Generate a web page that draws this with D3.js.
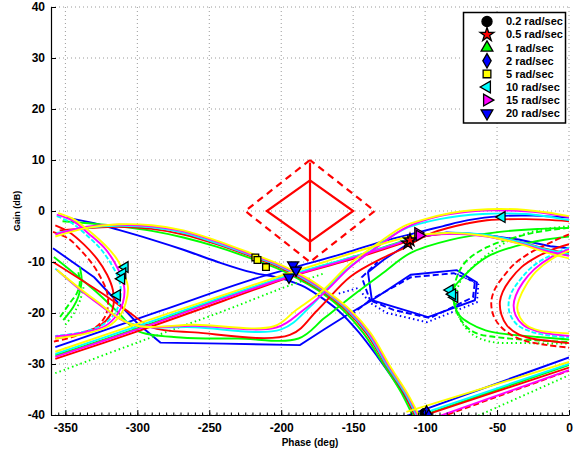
<!DOCTYPE html>
<html>
<head>
<meta charset="utf-8">
<script src="https://cdn.jsdelivr.net/npm/d3@7"></script>
<style>
body { margin: 0; background: #fff; }
text { font-family: "Liberation Sans", Arial, Helvetica, sans-serif; font-weight: bold; fill: #000; }
</style>
</head>
<body>
<svg id="chart" width="588" height="453"></svg>
<script>
// axis ticks
const phaseTicks = [-350, -300, -250, -200, -150, -100, -50, 0]
const gainTicks = [40, 30, 20, 10, 0, -10, -20, -30, -40]
const legendLabels = ['0.2 rad/sec', '0.5 rad/sec', '1 rad/sec', '2 rad/sec', '5 rad/sec', '10 rad/sec', '15 rad/sec', '20 rad/sec']

// [phase deg, gain dB]
// blue
const blueS1 = [[-349,-1.3],[-330,-2.4],[-313,-3.7],[-290,-5.6],[-268,-7.6],[-245,-9.9],[-221,-12],[-200,-13.2],[-186,-14.6],[-174,-16.6],[-160,-19.6],[-146,-23.8],[-133,-28.6],[-122,-33],[-113,-36.8],[-106,-40.5]]
const blueR3 = [[-114,-40.3],[0,-28.7]]
const blueS4 = [[-357,-26.7],[-283,-19.5],[-221,-13.5],[-190,-11],[-160,-8.6],[-130,-6],[-105,-4.2],[-88,-3],[-70,-1.8],[-48,-1],[-25,-0.9],[0,-1.3]]
const blueS3 = [[-358.6,-7.3],[-330,-13],[-300,-22],[-284,-25.8],[-240,-26],[-187,-26.3],[-170,-23.2],[-152,-20],[-137,-17.5],[-110,-12.5],[-78,-11.6],[-64,-14],[-65.4,-17.5],[-98,-20.8],[-137,-17.5],[-139.7,-12],[-129,-9.6],[-115,-7],[-105,-5.2],[-85,-4.2],[-60,-4.6],[-35,-5.6],[-13,-6.9],[0,-7.3]]
const blueHexDash = [[-152,-20.5],[-138.3,-17.5],[-122,-19.4],[-96.6,-21],[-66.7,-16.9],[-65.4,-13.9],[-80,-12.2],[-110,-13],[-138.3,-17.5],[-144,-13],[-133,-10]]
const blueHexDot = [[-160,-16.2],[-146.7,-15.1],[-138.3,-18],[-126.5,-20],[-98.7,-21.8],[-64,-17.9],[-63,-14.4],[-78,-12.3]]

// green
const greenS1 = [[-352,-2],[-330,-2.5],[-313,-3],[-290,-3.9],[-268,-5.2],[-245,-7],[-221,-9.3],[-200,-11.6],[-185,-13.8],[-172,-16],[-157,-19.4],[-143,-23.9],[-129,-30],[-117,-35.4],[-108,-40.5]]
const greenR3 = [[-104,-40.3],[0,-30.2]]
const greenR3Dot = [[-66,-40.5],[0,-32.2]]
const greenS4 = [[-357,-28.3],[-300,-23],[-240,-17],[-190,-12.3],[-150,-9],[-120,-6.3],[-105,-5],[-85,-4.4],[-60,-4.8],[-35,-6.2],[-15,-7.8],[0,-8.6]]
const greenS4Dot = [[-357,-31.8],[-300,-25.8],[-240,-19.6],[-200,-15.2],[-170,-12.2]]
const greenS3 = [[-358,-9],[-330,-15.5],[-313,-20],[-300,-23.5],[-270,-24.8],[-230,-25],[-188,-25],[-170,-21],[-150,-16.5],[-130,-12.3],[-110,-8.2],[-83,-5.7],[-48,-4.1],[-20,-3.5],[0,-3.3]]
const greenC = [[-351.5,-21.4],[-344.5,-18.8],[-341,-16.8],[-338.7,-13.5],[-340,-11]]
const greenCDash = [[-353.7,-20.8],[-346.8,-18],[-342,-16.1],[-340,-14.1],[-341,-12]]
const greenCDot = [[-350,-22.3],[-344,-20],[-339.8,-17.5],[-337,-14.5]]
const greenRC = [[0,-5],[-29,-6.3],[-57,-9],[-73.6,-12.9],[-80.6,-15.5],[-79.5,-18.5],[-76,-20.5],[-69,-22],[-58,-23.4],[-48,-24],[-22,-24.7],[0,-25.2]]
const greenRCDash = [[0,-3.3],[-25,-4.3],[-57,-7.1],[-72,-10],[-78,-13],[-80,-16],[-78.5,-19.5],[-72,-22.5],[-64,-24],[-45,-24.9],[-20,-25.4],[0,-25.7]]
const greenRCDot = [[0,-3],[-22,-3.8],[-41,-5.7],[-64,-10.2],[-75.8,-14],[-78.5,-17.5],[-76,-21],[-68,-24],[-55,-25.6],[-30,-25.9],[0,-26]]

// red
const redS1 = [[-354,-3.8],[-335,-3.4],[-313,-3.1],[-290,-3.5],[-268,-4.6],[-245,-6.5],[-221,-8.9],[-200,-11.2],[-184,-13.6],[-170,-16],[-155,-19.4],[-141,-23.9],[-127,-30.3],[-115,-35.6],[-106.5,-40.5]]
const redR3 = [[-103,-40.3],[0,-30.7]]
const redR3Dash = [[-90,-40.5],[0,-31.3]]
const redS4 = [[-357,-29],[-300,-23.6],[-240,-17.6],[-190,-12.6],[-150,-9.4],[-120,-6.7],[-105,-5.2],[-85,-4.4],[-60,-4.7],[-35,-6],[-15,-7.5],[0,-8.3]]
const redS3 = [[-358.6,-10],[-321,-16.8],[-305,-20],[-290,-22.8],[-260,-23.8],[-194,-24.3],[-175,-19.5],[-152,-12.9],[-130,-9.3],[-117,-7.6],[-95,-4.3],[-70,-2.4],[-57,-1.8],[-30,-1.6],[0,-2]]
const redC = [[-357,-2.8],[-347,-4.2],[-337,-6.6],[-328,-9.4],[-321,-12.5],[-317,-15.5],[-316.5,-18.3],[-319,-20.5],[-326,-22.5],[-340,-24],[-357,-25]]
const redCDash = [[-358.6,-4.1],[-348,-5.4],[-339,-7.8],[-331,-10.5],[-325,-13.3],[-321,-16],[-320.5,-18.8],[-323,-21],[-330,-23],[-345,-24.7],[-358,-25.6]]
const redRC = [[0,-6.5],[-10,-7.4],[-22.3,-9],[-33,-11],[-41,-13.5],[-46,-15.8],[-48,-17.8],[-47,-20.3],[-43,-22.5],[-35,-24.2],[-26,-25],[-13,-25.5],[0,-25.9]]
const redRCDash = [[0,-4.6],[-10,-5.8],[-27,-8.2],[-38,-10.4],[-46,-13],[-51.5,-15.3],[-54,-17.8],[-52.5,-20.5],[-48,-22.5],[-40,-24.3],[-30,-25.5],[-15,-26.3],[0,-26.8]]

// cyan
const cyanS1 = [[-356,-4.3],[-335,-3.3],[-313,-2.9],[-290,-3.2],[-268,-4.3],[-245,-6.3],[-221,-8.7],[-200,-11],[-183,-13.5],[-169,-16],[-154,-19.4],[-140,-23.9],[-126,-30.5],[-114,-35.7],[-105.5,-40.5]]
const cyanR3 = [[-108,-40.3],[0,-30]]
const cyanS4 = [[-357,-28],[-300,-22.6],[-240,-16.8],[-190,-12.2],[-150,-9],[-120,-6.4],[-105,-5],[-85,-4.3],[-60,-4.6],[-35,-6],[-15,-7.6],[0,-8.4]]
const cyanS3 = [[-357,-11.3],[-330,-17.5],[-303,-22.2],[-260,-22.8],[-200,-23.2],[-180,-18.8],[-160,-12.8],[-140,-8.3],[-115,-3.6],[-90,-1.6],[-60,-0.6],[-30,-0.6],[0,-1.8]]
const cyanC = [[-356,-1],[-346,-2.3],[-335,-4.8],[-325,-7.6],[-318,-10.5],[-313,-13.3],[-311.5,-15.5],[-312.5,-18],[-316,-20.2],[-324,-22.3],[-339,-23.8],[-357,-24.5]]
const cyanRC = [[0,-7.2],[-12,-8.6],[-25,-10.8],[-34,-13.5],[-40,-16],[-42,-18.2],[-41,-20.2],[-36,-22.3],[-27,-23.6],[-14,-24.4],[0,-24.8]]

// magenta
const magentaS1 = [[-357,-4.6],[-335,-3.1],[-313,-2.7],[-290,-3],[-268,-4],[-245,-6],[-221,-8.5],[-200,-10.8],[-182,-13.4],[-168,-16],[-153,-19.4],[-139,-23.9],[-125,-30.5],[-113,-35.7],[-104.5,-40.5]]
const magentaR3 = [[-92,-40.4],[0,-31.2]]
const magentaS4 = [[-357,-28.6],[-300,-23.2],[-240,-17.2],[-190,-12.5],[-150,-9.2],[-120,-6.5],[-105,-5.1],[-85,-4.5],[-60,-4.9],[-35,-6.3],[-15,-7.9],[0,-8.8]]
const magentaS3 = [[-356,-11.5],[-330,-17.6],[-303,-22.3],[-260,-22.5],[-203,-22.8],[-185,-19.5],[-170,-16],[-152,-11],[-133,-7],[-113,-3.2],[-90,-1],[-65,0],[-45,0.1],[-20,-0.3],[0,-1.2]]
const magentaC = [[-356,-0.7],[-345,-1.9],[-334,-4.4],[-323,-7.2],[-316,-10],[-311,-13],[-309,-15.3],[-310,-18],[-314,-20.3],[-322,-22.5],[-337,-23.8],[-357,-24.6]]
const magentaRC = [[0,-7.5],[-12,-9],[-24,-11.4],[-32,-14],[-37,-16.6],[-38.5,-18.5],[-37,-20.5],[-32,-22.3],[-24,-23.4],[-13,-24.1],[0,-24.5]]

// yellow
const yellowS1 = [[-357,-5],[-335,-3.3],[-313,-2.6],[-290,-2.8],[-268,-3.8],[-245,-5.8],[-221,-8.3],[-200,-10.6],[-181,-13.3],[-167,-16],[-152,-19.4],[-138,-23.9],[-124,-30.6],[-112.5,-35.7],[-103.5,-40.5]]
const yellowR3 = [[-113,-39.4],[0,-29.6]]
const yellowS4 = [[-357,-27.6],[-283,-20.5],[-230,-15.5],[-198,-12.5],[-170,-10],[-140,-7.3],[-110,-5],[-85,-4.3],[-60,-4.8],[-35,-6.4],[-15,-8.2],[0,-9.3]]
const yellowS3 = [[-356,-11.5],[-330,-17.3],[-303,-22.3],[-260,-22.3],[-205,-22.6],[-190,-19.5],[-172,-15.8],[-152,-10.3],[-133,-6.4],[-115,-3],[-100,-1.6],[-82,-0.4],[-65,0.2],[-48,0.4],[-30,0.2],[-15,-0.3],[0,-1]]
const yellowC = [[-355,-0.4],[-345,-1.5],[-333,-4],[-322,-6.8],[-314,-9.5],[-309,-12.5],[-306.5,-15],[-308,-18],[-312,-20.5],[-320,-22.6],[-335,-24],[-357,-25]]
const yellowRC = [[0,-7.8],[-12,-9.4],[-23,-11.9],[-30,-14.6],[-34.5,-17.2],[-36,-19],[-34,-20.9],[-29,-22.5],[-21,-23.4],[-11,-23.8],[0,-24]]

// robustness diamond
const diamondInner = [[-180,6],[-210,0],[-180,-6],[-150,0],[-180,6]]
const diamondOuter = [[-180,10],[-225,0],[-180,-10],[-135,0],[-180,10]]
const diamondAxis = [[-180,9.5],[-180,-8]]

// frequency markers
const markCircle = [[-100.5,-39.6]]
const markStar = [[-112,-6.3],[-110.5,-5.7]]
const markTriUp = [[-98,-40]]
const markDiamond = [[-99,-39.5],[-97.5,-40.2]]
const markSquare = [[-218,-9.1],[-216.5,-9.6],[-210.6,-11]]
const markTriLeft = [[-308.6,-11],[-310.2,-12.2],[-311,-13.3],[-314,-16.5],[-82.7,-15.5],[-79.5,-16.9],[-81,-16.3],[-46.6,-1.2]]
const markTriRight = [[-105,-4.3],[-104,-4.8]]
const markTriDown = [[-191.8,-10.6],[-189.7,-11.6],[-194.6,-13]]

const BLUE = '#0000ff', GREEN = '#00ff00', RED = '#ff0000', CYAN = '#00ffff', MAGENTA = '#ff00ff', YELLOW = '#ffff00'
const DASH = '6,3', DOT = '1.5,3'

const curves = [
  {d: blueHexDot, c: BLUE, s: DOT, lin: true},
  {d: blueHexDash, c: BLUE, s: DASH, lin: true},
  {d: blueS1, c: BLUE}, {d: blueR3, c: BLUE}, {d: blueS4, c: BLUE}, {d: blueS3, c: BLUE, lin: true},
  {d: greenR3Dot, c: GREEN, s: DOT}, {d: greenS4Dot, c: GREEN, s: DOT},
  {d: greenCDot, c: GREEN, s: DOT}, {d: greenCDash, c: GREEN, s: DASH},
  {d: greenRCDot, c: GREEN, s: DOT}, {d: greenRCDash, c: GREEN, s: DASH},
  {d: greenS1, c: GREEN}, {d: greenR3, c: GREEN}, {d: greenS4, c: GREEN}, {d: greenS3, c: GREEN},
  {d: greenC, c: GREEN}, {d: greenRC, c: GREEN},
  {d: redR3Dash, c: RED, s: DASH}, {d: redCDash, c: RED, s: DASH}, {d: redRCDash, c: RED, s: DASH},
  {d: redS1, c: RED}, {d: redR3, c: RED}, {d: redS4, c: RED}, {d: redS3, c: RED},
  {d: redC, c: RED}, {d: redRC, c: RED},
  {d: cyanS1, c: CYAN}, {d: cyanR3, c: CYAN}, {d: cyanS4, c: CYAN}, {d: cyanS3, c: CYAN},
  {d: cyanC, c: CYAN, s: '5,2'}, {d: cyanRC, c: CYAN, s: '5,2'},
  {d: magentaS1, c: MAGENTA}, {d: magentaR3, c: MAGENTA}, {d: magentaS4, c: MAGENTA}, {d: magentaS3, c: MAGENTA},
  {d: magentaC, c: MAGENTA}, {d: magentaRC, c: MAGENTA},
  {d: yellowS1, c: YELLOW}, {d: yellowR3, c: YELLOW}, {d: yellowS4, c: YELLOW}, {d: yellowS3, c: YELLOW},
  {d: yellowC, c: YELLOW}, {d: yellowRC, c: YELLOW}
]

const markerSets = [
  {d: markCircle, type: d3.symbolCircle, fill: '#000', rot: 0, size: 60},
  {d: markStar, type: d3.symbolStar, fill: '#ff0000', rot: 0, size: 50},
  {d: markTriUp, type: d3.symbolTriangle, fill: GREEN, rot: 0, size: 50},
  {d: markDiamond, type: d3.symbolDiamond, fill: BLUE, rot: 0, size: 50},
  {d: markSquare, type: d3.symbolSquare, fill: YELLOW, rot: 0, size: 45},
  {d: markTriLeft, type: d3.symbolTriangle, fill: CYAN, rot: -90, size: 50},
  {d: markTriRight, type: d3.symbolTriangle, fill: MAGENTA, rot: 90, size: 50},
  {d: markTriDown, type: d3.symbolTriangle, fill: BLUE, rot: 180, size: 50}
]

let svg = d3.select('#chart')
let plotLeft = 51, plotRight = 569, plotTop = 7, plotBottom = 415

let x = d3.scaleLinear().domain([-360, 0]).range([plotLeft, plotRight])
let y = d3.scaleLinear().domain([-40, 40]).range([plotBottom, plotTop])

svg.append('defs').append('clipPath').attr('id', 'plotclip')
  .append('rect')
    .attr('x', plotLeft).attr('y', plotTop)
    .attr('width', plotRight - plotLeft).attr('height', plotBottom - plotTop)

// dotted grid
let grid = svg.append('g')
  .attr('stroke', '#9a9a9a')
  .attr('stroke-width', 1)
  .attr('stroke-dasharray', '1,3')
grid.append('g').selectAll('line')
  .data(phaseTicks)
  .join('line')
    .attr('x1', d => x(d)).attr('x2', d => x(d))
    .attr('y1', plotTop).attr('y2', plotBottom)
grid.append('g').selectAll('line')
  .data(gainTicks)
  .join('line')
    .attr('x1', plotLeft).attr('x2', plotRight)
    .attr('y1', d => y(d)).attr('y2', d => y(d))

let plot = svg.append('g').attr('clip-path', 'url(#plotclip)')

let smoothLine = d3.line().x(d => x(d[0])).y(d => y(d[1])).curve(d3.curveCatmullRom.alpha(0.5))
let straightLine = d3.line().x(d => x(d[0])).y(d => y(d[1]))

plot.selectAll('path.curve')
  .data(curves)
  .join('path')
    .attr('class', 'curve')
    .attr('d', d => (d.lin ? straightLine : smoothLine)(d.d))
    .attr('fill', 'none')
    .attr('stroke', d => d.c)
    .attr('stroke-width', 1.9)
    .attr('stroke-dasharray', d => d.s || null)

// red diamond
plot.append('path').attr('d', straightLine(diamondOuter))
  .attr('fill', 'none').attr('stroke', RED).attr('stroke-width', 2.2).attr('stroke-dasharray', '7,5')
plot.append('path').attr('d', straightLine(diamondInner))
  .attr('fill', 'none').attr('stroke', RED).attr('stroke-width', 2.2)
plot.append('path').attr('d', straightLine(diamondAxis))
  .attr('fill', 'none').attr('stroke', RED).attr('stroke-width', 2.2)

// markers
markerSets.forEach(m => {
  plot.append('g').selectAll('path')
    .data(m.d)
    .join('path')
      .attr('d', d3.symbol().type(m.type).size(m.size))
      .attr('transform', d => `translate(${x(d[0])},${y(d[1])}) rotate(${m.rot})`)
      .attr('fill', m.fill)
      .attr('stroke', '#000')
      .attr('stroke-width', 1.3)
})

// axes
let fmt = d => String(d)
let xAxis = svg.append('g').attr('transform', `translate(0,${plotBottom})`)
xAxis.call(d3.axisBottom(x).tickValues(d3.range(-360, 1, 5)).tickSize(-2.5).tickSizeOuter(0).tickFormat(''))
let xMajor = svg.append('g').attr('transform', `translate(0,${plotBottom})`)
xMajor.call(d3.axisBottom(x).tickValues(phaseTicks).tickSize(-5).tickSizeOuter(0).tickPadding(8).tickFormat(fmt))
xMajor.select('.domain').remove()

let yAxis = svg.append('g').attr('transform', `translate(${plotLeft},0)`)
yAxis.call(d3.axisLeft(y).tickValues(gainTicks).tickSize(-5).tickSizeOuter(0).tickPadding(6).tickFormat(fmt))

svg.selectAll('.domain').attr('stroke', '#000').attr('stroke-width', 1.2)
svg.selectAll('.tick line').attr('stroke', '#000')
svg.selectAll('.tick text')
  .style('font-family', '"Liberation Sans", Arial, sans-serif')
  .style('font-weight', 'bold')
  .style('font-size', '12px')

svg.append('text')
  .attr('x', 310).attr('y', 446)
  .attr('text-anchor', 'middle')
  .style('font-size', '10px')
  .text('Phase (deg)')

svg.append('text')
  .attr('transform', 'translate(20,211) rotate(-90)')
  .attr('text-anchor', 'middle')
  .style('font-size', '9px')
  .text('Gain (dB)')

// legend
let legend = svg.append('g')
legend.append('rect')
  .attr('x', 463.5).attr('y', 12.5)
  .attr('width', 102).attr('height', 110.5)
  .attr('fill', '#fff').attr('stroke', '#000').attr('stroke-width', 1.5)

let legendRows = legend.selectAll('g.row')
  .data(legendLabels)
  .join('g')
    .attr('transform', (d, i) => `translate(0,${21.5 + i * 13.1})`)

legendRows.append('path')
  .attr('d', (d, i) => d3.symbol().type(markerSets[i].type).size(i === 0 ? 80 : 60)())
  .attr('transform', (d, i) => `translate(487,0) rotate(${markerSets[i].rot})`)
  .attr('fill', (d, i) => markerSets[i].fill)
  .attr('stroke', '#000')
  .attr('stroke-width', 1.3)

legendRows.append('text')
  .attr('x', 506).attr('y', 0)
  .attr('dy', '0.35em')
  .style('font-size', '11px')
  .text(d => d)
</script>
</body>
</html>
